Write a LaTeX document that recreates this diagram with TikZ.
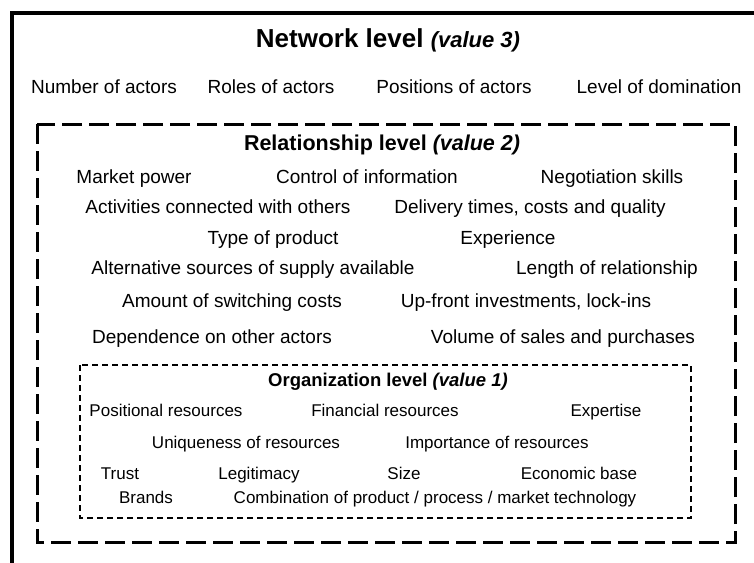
\documentclass[tikz,border=0pt]{standalone}
\usepackage{fontspec}
\setmainfont{Liberation Sans}
\begin{document}
\begin{tikzpicture}[x=1pt,y=-1pt,
  item/.style={inner sep=0pt,text height=13.7pt,text depth=0pt,font=\fontsize{19}{22}\selectfont},
  orgitem/.style={inner sep=0pt,text height=12.2pt,text depth=0pt,font=\fontsize{17}{20}\selectfont},
  leveltitle/.style={inner sep=0pt,text height=15.4pt,text depth=0pt,font=\fontsize{21.5}{25}\selectfont\bfseries},
  orgtitle/.style={inner sep=0pt,text height=13.2pt,text depth=0pt,font=\fontsize{18.5}{22}\selectfont\bfseries},
  toptitle/.style={inner sep=0pt,text height=18.6pt,text depth=0pt,font=\fontsize{26}{30}\selectfont\bfseries},
  outerframe/.style={line width=4pt},
  relframe/.style={line width=3pt,dash pattern=on 20pt off 7pt},
  orgframe/.style={line width=1.5pt,dash pattern=on 6pt off 4pt}]
\useasboundingbox (0,0) rectangle (754,562);
\clip (0,0) rectangle (754,562);
\fill[white] (0,0) rectangle (754,562);

% frames of the three levels
\draw[outerframe] (12,13) rectangle (770,580);
\draw[relframe] (37,124) rectangle (735,542);
\draw[orgframe] (80,365) rectangle (691,518);

% network level
\node[toptitle] (nettitle) at (388,38) {Network level \fontsize{22}{26}\selectfont\itshape (value 3)};
\node[item] (n1) at (104,87) {Number of actors};
\node[item] (n2) at (271,87) {Roles of actors};
\node[item] (n3) at (454,87) {Positions of actors};
\node[item] (n4) at (659,87) {Level of domination};

% relationship level
\node[leveltitle] (reltitle) at (382,143) {Relationship level \itshape(value 2)};
\node[item] (r1) at (134,177) {Market power};
\node[item] (r2) at (367,177) {Control of information};
\node[item] (r3) at (612,177) {Negotiation skills};
\node[item] (r4) at (218,207) {Activities connected with others};
\node[item] (r5) at (530,207) {Delivery times, costs and quality};
\node[item] (r6) at (273,238) {Type of product};
\node[item] (r7) at (508,238) {Experience};
\node[item] (r8) at (253,268) {Alternative sources of supply available};
\node[item] (r9) at (607,268) {Length of relationship};
\node[item] (r10) at (232,301) {Amount of switching costs};
\node[item] (r11) at (526,301) {Up-front investments, lock-ins};
\node[item] (r12) at (212,337) {Dependence on other actors};
\node[item] (r13) at (563,337) {Volume of sales and purchases};

% organization level
\node[orgtitle] (orgtitle) at (388,380) {Organization level \itshape(value 1)};
\node[orgitem] (o1) at (166,410) {Positional resources};
\node[orgitem] (o2) at (385,410) {Financial resources};
\node[orgitem] (o3) at (606,410) {Expertise};
\node[orgitem] (o4) at (246,442) {Uniqueness of resources};
\node[orgitem] (o5) at (497,442) {Importance of resources};
\node[orgitem] (o6) at (120,473) {Trust};
\node[orgitem] (o7) at (259,473) {Legitimacy};
\node[orgitem] (o8) at (404,473) {Size};
\node[orgitem] (o9) at (579,473) {Economic base};
\node[orgitem] (o10) at (146,497) {Brands};
\node[orgitem] (o11) at (435,497) {Combination of product / process / market technology};
\end{tikzpicture}
\end{document}
